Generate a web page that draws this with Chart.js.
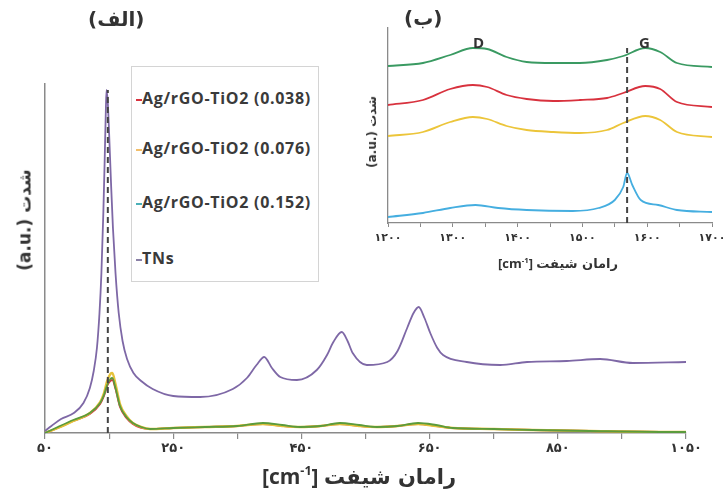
<!DOCTYPE html>
<html>
<head>
<meta charset="utf-8">
<script src="https://cdn.jsdelivr.net/npm/chart.js@4.4.1/dist/chart.umd.min.js"></script>
<style>
  html, body { margin: 0; padding: 0; background: #fff; }
  #wrap { position: relative; width: 723px; height: 497px; overflow: hidden; font-family: 'Open Sans', 'DejaVu Sans', sans-serif; color: #333; }
  canvas { position: absolute; left: 0; top: 0; }
  .lbl { position: absolute; font-weight: bold; white-space: nowrap; line-height: 1; }
  .legend { position: absolute; left: 131px; top: 66px; width: 188px; height: 216px; border: 1px solid #d4d4d4; box-sizing: border-box; background: #fff; }
  .item { position: absolute; left: 4px; font-size: 16px; letter-spacing: 0.7px; line-height: 22px; font-weight: bold; white-space: nowrap; color: #3a3a3a; }
  .item i { display: inline-block; width: 6px; height: 2px; vertical-align: middle; margin-right: 0; }
  sup { font-size: 0.6em; vertical-align: 0.7em; line-height: 0; }
</style>
</head>
<body>
<div id="wrap">
  <canvas id="main" width="723" height="497"></canvas>
  <canvas id="inset" width="723" height="497"></canvas>

  <div class="legend">
    <div class="item" style="top:20px"><i style="background:#d8323e"></i>Ag/rGO-TiO2 (0.038)</div>
    <div class="item" style="top:70px"><i style="background:#f2be6a"></i>Ag/rGO-TiO2 (0.076)</div>
    <div class="item" style="top:124px"><i style="background:#4bb0b8"></i>Ag/rGO-TiO2 (0.152)</div>
    <div class="item" style="top:180px"><i style="background:#8a80a6"></i>TNs</div>
  </div>

  <div class="lbl" style="left:88px; top:9px; font-size:20px; font-family:'DejaVu Sans'">(الف)</div>
  <div class="lbl" style="left:404px; top:8px; font-size:20px; font-family:'DejaVu Sans'">(ب)</div>
  <div class="lbl" style="left:473px; top:35px; font-size:15px">D</div>
  <div class="lbl" style="left:639px; top:35px; font-size:15px">G</div>

  <div class="lbl" style="left:25px; top:220px; font-size:17px; transform: translate(-50%,-50%) rotate(-90deg); font-family:'DejaVu Sans'">(a.u.) شدت</div>
  <div class="lbl" style="left:372px; top:132px; font-size:12px; transform: translate(-50%,-50%) rotate(-90deg); font-family:'DejaVu Sans'">(a.u.) شدت</div>

  <div class="lbl" style="left:359px; top:466px; font-size:21px; transform: translateX(-50%)">[cm<sup>-1</sup>] <span style="font-family:'DejaVu Sans'">رامان شیفت</span></div>
  <div class="lbl" style="left:558px; top:257px; font-size:13px; transform: translateX(-50%)">[cm<sup>-1</sup>] <span style="font-family:'DejaVu Sans'">رامان شیفت</span></div>
</div>

<script>
// main panel: Raman shift (cm-1) vs intensity
const tnsX = [50, 60, 75, 95, 110, 120, 126, 131, 135, 138, 141, 143, 145, 146, 148, 150, 153, 156, 160, 165, 171, 178, 188, 200, 218, 250, 292, 343, 365, 380, 392, 404, 417, 443, 474, 490, 499, 513, 522, 530, 552, 584, 600, 615, 625, 633, 642, 651, 662, 671, 708, 760, 802, 864, 916, 967, 1050];
const tnsY = [2, 7, 14, 20, 30, 45, 62, 85, 120, 160, 220, 270, 325, 343, 330, 300, 250, 205, 160, 120, 92, 74, 60, 52, 44, 37, 36, 44, 55, 68, 76, 65, 56, 53, 63, 78, 90, 101, 92, 80, 68, 71, 82, 105, 120, 126, 115, 100, 85, 78, 71, 68, 71, 72, 74, 70, 71];

const sampleX = [50, 70, 94, 120, 136, 142, 147, 152, 155, 160, 167, 177, 187, 200, 214, 250, 300, 350, 390, 420, 448, 480, 510, 540, 568, 600, 632, 660, 686, 750, 811, 900, 1045, 1050];
const s038Y = [0, 5, 12, 19, 29, 37, 47, 52, 53, 44, 26, 15, 9, 5, 4, 5, 6, 7, 9, 7, 6, 7, 9, 7, 6, 7, 9, 7, 5, 4, 3, 2, 1, 1];
const s076Y = [0, 5, 12, 20, 31, 40, 52, 59, 60, 49, 29, 17, 10, 6, 4, 5, 6, 7, 9, 7, 6, 7, 9, 7, 6, 7, 9, 7, 5, 4, 3, 2, 1, 1];
const s152Y = [0, 6, 13, 20, 30, 38, 48, 54, 55, 45, 27, 16, 10, 6, 4, 5, 6, 7, 10, 8, 6, 7, 10, 8, 6, 7, 10, 8, 5, 4, 3, 2, 1, 1];

const mainTicks = [50, 150, 250, 350, 450, 550, 650, 750, 850, 950, 1050];
const mainMarkX = 148;

// inset: D and G bands
const insetX = [1200, 1254, 1296, 1331, 1353, 1383, 1414, 1455, 1496, 1538, 1563, 1597, 1620, 1646, 1700];
const insetGreen = [157, 160, 168, 175, 174, 166, 161, 160, 160, 163, 167, 175, 171, 160, 156];
const insetRed = [118, 123, 134, 138, 136, 128, 124, 122, 123, 125, 130, 137, 134, 121, 116];
const insetYellow = [87, 91, 101, 106, 104, 97, 93, 91, 90, 93, 100, 107, 103, 91, 86];
const blueX = [1200, 1254, 1296, 1335, 1370, 1414, 1485, 1525, 1550, 1563, 1569, 1577, 1590, 1617, 1646, 1700];
const blueY = [6, 10, 15, 18, 15, 13, 12, 15, 23, 36, 50, 38, 23, 18, 13, 11];
const insetTicks = [1200, 1250, 1300, 1350, 1400, 1450, 1500, 1550, 1600, 1650, 1700];
const insetMarkX = 1569;

const faDigits = '۰۱۲۳۴۵۶۷۸۹';
const toFa = v => String(v).replace(/\d/g, d => faDigits[d]);
const pts = (xs, ys) => xs.map((x, i) => ({ x: x, y: ys[i] }));

function line(label, data, color, order, width) {
  return {
    label: label, data: data, borderColor: color, borderWidth: width || 1.8,
    pointRadius: 0, fill: false, cubicInterpolationMode: 'monotone', order: order
  };
}

function dashed(x, top) {
  return {
    label: 'mark', data: [{ x: x, y: 0 }, { x: x, y: top }],
    borderColor: '#444', borderWidth: 2, borderDash: [6, 4], pointRadius: 0, order: 0
  };
}

// keep the plot area where it is, even if the last tick label hangs over the edge
function fixBox(h) {
  return s => { s.height = h; s.paddingLeft = 0; s.paddingRight = 0; };
}

// main chart
new Chart(document.getElementById('main').getContext('2d'), {
  type: 'line',
  data: {
    datasets: [
      dashed(mainMarkX, 343),
      line('TNs', pts(tnsX, tnsY), '#7e68a6', 1),
      line('Ag/rGO-TiO2 (0.152)', pts(sampleX, s152Y), '#5b9b3c', 2),
      line('Ag/rGO-TiO2 (0.076)', pts(sampleX, s076Y), '#e6c23a', 3, 2.4),
      line('Ag/rGO-TiO2 (0.038)', pts(sampleX, s038Y), '#d8323e', 4)
    ]
  },
  options: {
    responsive: false,
    animation: false,
    layout: { padding: { left: 45, right: 37, top: 84, bottom: 0 } },
    plugins: { legend: { display: false }, tooltip: { enabled: false } },
    scales: {
      x: {
        type: 'linear', min: 50, max: 1050,
        afterBuildTicks: s => { s.ticks = mainTicks.map(v => ({ value: v })); },
        afterFit: fixBox(64),
        grid: { display: true, drawOnChartArea: false, drawTicks: true, tickLength: 6, color: '#8a8a8a', lineWidth: 1.2 },
        border: { display: true, color: '#8a8a8a', width: 1.5 },
        ticks: {
          autoSkip: false, maxRotation: 0, padding: 2, color: '#333',
          font: { family: "'DejaVu Sans'", size: 13, weight: 'bold' },
          callback: v => ((v - 50) % 200 === 0 ? toFa(v) : '')
        }
      },
      y: {
        min: 0, max: 349,
        afterFit: s => { s.width = 0; },
        grid: { display: false },
        border: { display: true, color: '#8a8a8a', width: 1.5 },
        ticks: { display: false }
      }
    }
  }
});

// inset chart
new Chart(document.getElementById('inset').getContext('2d'), {
  type: 'line',
  data: {
    datasets: [
      dashed(insetMarkX, 175),
      line('green', pts(insetX, insetGreen), '#3a9a62', 1),
      line('Ag/rGO-TiO2 (0.038)', pts(insetX, insetRed), '#d8323e', 2),
      line('Ag/rGO-TiO2 (0.076)', pts(insetX, insetYellow), '#ecc53a', 3),
      line('Ag/rGO-TiO2 (0.152)', pts(blueX, blueY), '#45aee0', 4)
    ]
  },
  options: {
    responsive: false,
    animation: false,
    layout: { padding: { left: 388, right: 11, top: 28, bottom: 0 } },
    plugins: { legend: { display: false }, tooltip: { enabled: false } },
    scales: {
      x: {
        type: 'linear', min: 1200, max: 1700,
        afterBuildTicks: s => { s.ticks = insetTicks.map(v => ({ value: v })); },
        afterFit: fixBox(274),
        grid: { display: true, drawOnChartArea: false, drawTicks: true, tickLength: 4, color: '#8a8a8a', lineWidth: 1 },
        border: { display: true, color: '#8a8a8a', width: 1.3 },
        ticks: {
          autoSkip: false, maxRotation: 0, padding: 5, color: '#333',
          font: { family: "'DejaVu Sans'", size: 11, weight: 'bold' },
          callback: v => (v % 100 === 0 ? toFa(v) : '')
        }
      },
      y: {
        min: 0, max: 195,
        afterFit: s => { s.width = 0; },
        grid: { display: false },
        border: { display: true, color: '#8a8a8a', width: 1.3 },
        ticks: { display: false }
      }
    }
  }
});
</script>
</body>
</html>
